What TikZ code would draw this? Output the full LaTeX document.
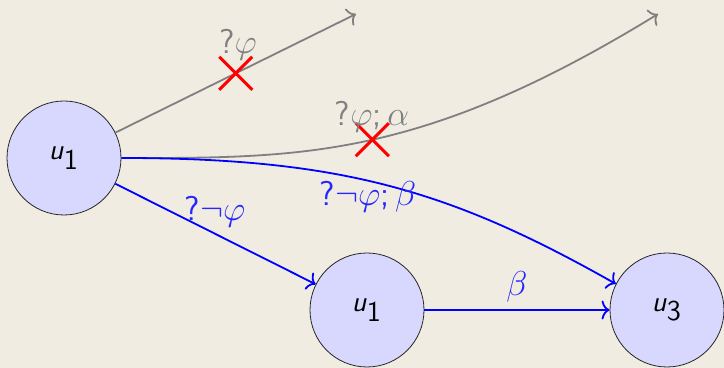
\documentclass[tikz,border=0pt]{standalone}
\usetikzlibrary{arrows.meta,shapes.misc}
\definecolor{bg}{RGB}{240,236,226}
\definecolor{nodefill}{RGB}{216,216,255}
\newcommand{\su}{\textsf{\textit{u}}}
\newcommand{\sq}{\textsf{?}}
\begin{document}
\begin{tikzpicture}[x=0.5pt,y=-0.5pt,
  state/.style={circle, draw=black!85, fill=nodefill, minimum size=57pt, inner sep=0pt, line width=0.4pt, font=\Large},
  grayedge/.style={draw=gray, line width=0.9pt, -{To[length=4pt,width=9.5pt]}},
  blueedge/.style={draw=blue, line width=0.9pt, -{To[length=4pt,width=9.5pt]}},
  graylbl/.style={text=gray, font=\LARGE, inner sep=0pt},
  bluelbl/.style={text=blue!85, font=\LARGE, inner sep=0pt},
  xmark/.style={cross out, draw=red, line width=1.5pt, minimum size=15pt, inner sep=0pt}]
\fill[bg] (0,0) rectangle (724,368);
\useasboundingbox (0,0) rectangle (724,368);
\node[state] (u1) at (64,158) {$\su_{\textsf{1}}$};
\node[state] (u2) at (367,310) {$\su_{\textsf{1}}$};
\node[state] (u3) at (667,310) {$\su_{\textsf{3}}$};
\coordinate (t1) at (356,14);
\coordinate (t2) at (658,14);
\draw[grayedge] (u1) -- node[xmark, pos=0.5] (x1) {} (t1);
\draw[grayedge] (u1.east) .. controls (300,158) and (420,160) .. node[xmark, pos=0.51] (x2) {} (t2);
\draw[blueedge] (u1.east) .. controls (340,158) and (450,190) .. (u3.153);
\draw[blueedge] (u1) -- (u2);
\draw[blueedge] (u2) -- (u3);
\node[graylbl] (l1) at (238,45) {$\sq\varphi$};
\node[graylbl] (l2) at (372,117) {$\sq\varphi\textsf{;}\,\alpha$};
\node[bluelbl] (l3) at (368,197) {$\sq\neg\varphi\textsf{;}\,\beta$};
\node[bluelbl] (l4) at (215,212) {$\sq\neg\varphi$};
\node[bluelbl] (l5) at (517,287) {$\beta$};
\end{tikzpicture}
\end{document}
